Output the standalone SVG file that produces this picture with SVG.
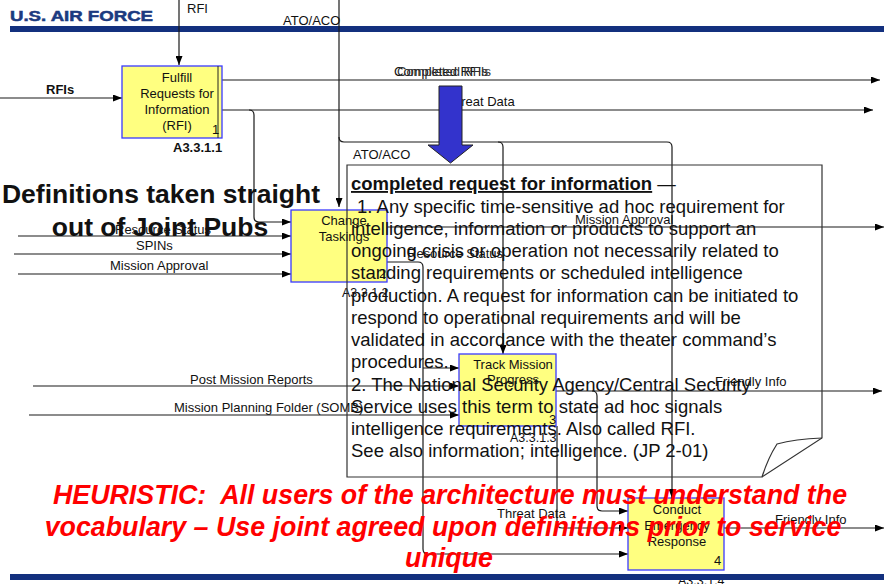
<svg xmlns="http://www.w3.org/2000/svg" width="884" height="584" viewBox="0 0 884 584">
  <style>
    .ln { fill: none; stroke: #1a1a1a; stroke-width: 1.2; }
    .box { fill: #ffff80; stroke: #3a3aff; stroke-width: 1.3; }
    .t { font-family: "Liberation Sans", Arial, sans-serif; fill: #111; }
    .lbl { font-size: 13px; }
    .nd { font-size: 13px; text-anchor: middle; }
    .num { font-size: 13px; }
    .code { font-size: 12.5px; }
    .body { font-size: 18.5px; }
    .big { font-size: 26.5px; font-weight: bold; text-anchor: middle; }
    .heur { font-family: "Liberation Sans", Arial, sans-serif; font-size: 26.8px; font-weight: bold; font-style: italic; fill: #ff0000; text-anchor: middle; }
    .bar { fill: #13307e; }
  </style>
  <defs>
    <marker id="ah" viewBox="0 0 10 10" refX="10" refY="5" markerWidth="9" markerHeight="7" markerUnits="userSpaceOnUse" orient="auto" preserveAspectRatio="none">
      <path d="M0,0 L10,5 L0,10 z" fill="#000"/>
    </marker>
  </defs>

  <rect width="884" height="584" fill="#fff"/>

  <!-- header -->
  <g id="header">
    <text x="10" y="21" font-family="'Liberation Sans', Arial, sans-serif" font-size="14" font-weight="bold" fill="#1b3a80" stroke="#1b3a80" stroke-width="0.5" textLength="143" lengthAdjust="spacingAndGlyphs">U.S. AIR FORCE</text>
    <rect class="bar" x="10" y="26" width="874" height="6"/>
  </g>

  <!-- connectors -->
  <g id="connectors">
    <!-- into Fulfill RFI -->
    <path class="ln" d="M179,0 V65" marker-end="url(#ah)"/>
    <path class="ln" d="M0,98 H122" marker-end="url(#ah)"/>
    <!-- outputs of Fulfill RFI -->
    <path class="ln" d="M218,80 H880" marker-end="url(#ah)"/>
    <path class="ln" d="M218,110 H873" marker-end="url(#ah)"/>
    <path class="ln" d="M249,110 Q254,110 254,115 V217 Q254,222 259,222 H291" marker-end="url(#ah)"/>
    <!-- ATO/ACO -->
    <path class="ln" d="M339,0 V207" marker-end="url(#ah)"/>
    <path class="ln" d="M339,137 Q339,142 344,142 H498 Q503,142 503,147 V354" marker-end="url(#ah)"/>
    <path class="ln" d="M498,142 H667 Q672,142 672,147 V498" marker-end="url(#ah)"/>
    <!-- into Change Taskings -->
    <path class="ln" d="M18,236 H291" marker-end="url(#ah)"/>
    <path class="ln" d="M14,254 H291" marker-end="url(#ah)"/>
    <path class="ln" d="M18,274 H291" marker-end="url(#ah)"/>
    <!-- outputs of Change Taskings -->
    <path class="ln" d="M387,227 H884" marker-end="url(#ah)"/>
    <path class="ln" d="M387,262 H418 Q423,262 423,267 V549 Q423,554 428,554 H628" marker-end="url(#ah)"/>
    <path class="ln" d="M423,368 H459" marker-end="url(#ah)"/>
    <!-- into Track Mission Progress -->
    <path class="ln" d="M33,386 H459" marker-end="url(#ah)"/>
    <path class="ln" d="M29,415 H459" marker-end="url(#ah)"/>
    <!-- outputs of Track Mission Progress -->
    <path class="ln" d="M556,391 H882" marker-end="url(#ah)"/>
    <path class="ln" d="M592,391 Q597,391 597,396 V506 Q597,511 602,511 H628" marker-end="url(#ah)"/>
    <path class="ln" d="M557,426 V523 Q557,528 562,528 H628" marker-end="url(#ah)"/>
    <!-- output of Conduct Emergency Response -->
    <path class="ln" d="M724,528 H884" marker-end="url(#ah)"/>
  </g>

  <!-- connector labels -->
  <g id="connector-labels" class="t lbl">
    <text x="187" y="13">RFI</text>
    <text x="283" y="25">ATO/ACO</text>
    <text x="46" y="94" font-weight="bold">RFIs</text>
    <text x="394" y="76">Completed RFIs</text>
    <text x="397" y="76" fill="#333">Completed RFIs</text>
    <text x="446" y="106">Threat Data</text>
    <text x="353" y="159">ATO/ACO</text>
    <text x="115" y="234">Resource Status</text>
    <text x="136" y="250">SPINs</text>
    <text x="110" y="270">Mission Approval</text>
    <text x="407" y="258">Resource Status</text>
    <text x="575" y="224">Mission Approval</text>
    <text x="190" y="384">Post Mission Reports</text>
    <text x="174" y="412">Mission Planning Folder (SOMB)</text>
    <text x="715" y="386">Friendly Info</text>
    <text x="497" y="518">Threat Data</text>
    <text x="775" y="524">Friendly Info</text>
  </g>

  <!-- activity nodes -->
  <g id="node-a3311" class="t">
    <rect class="box" x="122" y="66" width="100" height="72"/>
    <line x1="218" y1="66" x2="218" y2="138" stroke="#222" stroke-width="1"/>
    <text class="nd" x="177" y="82">Fulfill</text>
    <text class="nd" x="177" y="98">Requests for</text>
    <text class="nd" x="177" y="114">Information</text>
    <text class="nd" x="177" y="130">(RFI)</text>
    <text class="num" x="212" y="134">1</text>
    <text x="173" y="152" font-size="13" font-weight="bold">A3.3.1.1</text>
  </g>

  <g id="node-a3312" class="t">
    <rect class="box" x="291" y="210" width="96" height="72"/>
    <text class="nd" x="344" y="225">Change</text>
    <text class="nd" x="344" y="241">Taskings</text>
    <text class="num" x="379" y="278">2</text>
    <text class="code" x="342" y="297">A3.3.1.2</text>
  </g>

  <g id="node-a3313" class="t">
    <rect class="box" x="459" y="354" width="97" height="72"/>
    <text class="nd" x="513" y="369">Track Mission</text>
    <text class="nd" x="513" y="384">Progress</text>
    <text class="num" x="549" y="424">3</text>
    <text class="code" x="510" y="442">A3.3.1.3</text>
  </g>

  <g id="node-a3314" class="t">
    <rect class="box" x="628" y="498" width="96" height="72"/>
    <text class="nd" x="677" y="514">Conduct</text>
    <text class="nd" x="677" y="530">Emergency</text>
    <text class="nd" x="677" y="546">Response</text>
    <text class="num" x="714" y="565">4</text>
    <text class="code" x="678" y="585">A3.3.1.4</text>
  </g>

  <!-- bottom rule -->
  <rect class="bar" x="10" y="574" width="874" height="6"/>

  <!-- emphasis arrow -->
  <path d="M439,86 H462 V145 H473 L450.5,163 L428,145 H439 Z" fill="#3333cc" stroke="#222" stroke-width="1"/>

  <!-- definition note with folded corner -->
  <g id="definition-note" class="t">
    <path d="M347,165 H822 V438 L762,477 H347 Z" fill="none" stroke="#333" stroke-width="1.2"/>
    <path d="M822,438 Q795,439 777,444 Q768,458 762,477" fill="none" stroke="#333" stroke-width="1.2"/>
    <text x="351" y="190" font-size="18.5"><tspan font-weight="bold" text-decoration="underline">completed request for information</tspan> —</text>
    <text class="body" x="357" y="213">1. Any specific time-sensitive ad hoc requirement for</text>
    <text class="body" x="351" y="235">intelligence, information or products to support an</text>
    <text class="body" x="351" y="257">ongoing crisis or operation not necessarily related to</text>
    <text class="body" x="351" y="279">standing requirements or scheduled intelligence</text>
    <text class="body" x="351" y="302">production. A request for information can be initiated to</text>
    <text class="body" x="351" y="324">respond to operational requirements and will be</text>
    <text class="body" x="351" y="346">validated in accordance with the theater command’s</text>
    <text class="body" x="351" y="368">procedures.</text>
    <text class="body" x="351" y="391">2. The National Security Agency/Central Security</text>
    <text class="body" x="351" y="413">Service uses this term to state ad hoc signals</text>
    <text class="body" x="351" y="435">intelligence requirements. Also called RFI.</text>
    <text class="body" x="351" y="457">See also information; intelligence. (JP 2-01)</text>
  </g>

  <!-- callouts -->
  <g id="callout-definitions" class="t big">
    <text x="161" y="203">Definitions taken straight</text>
    <text x="160" y="236">out of Joint Pubs</text>
  </g>

  <g id="callout-heuristic">
    <text class="heur" x="450" y="504" xml:space="preserve">HEURISTIC:  All users of the architecture must understand the</text>
    <text class="heur" x="443" y="536">vocabulary – Use joint agreed upon definitions prior to service</text>
    <text class="heur" x="449" y="567">unique</text>
  </g>
</svg>
